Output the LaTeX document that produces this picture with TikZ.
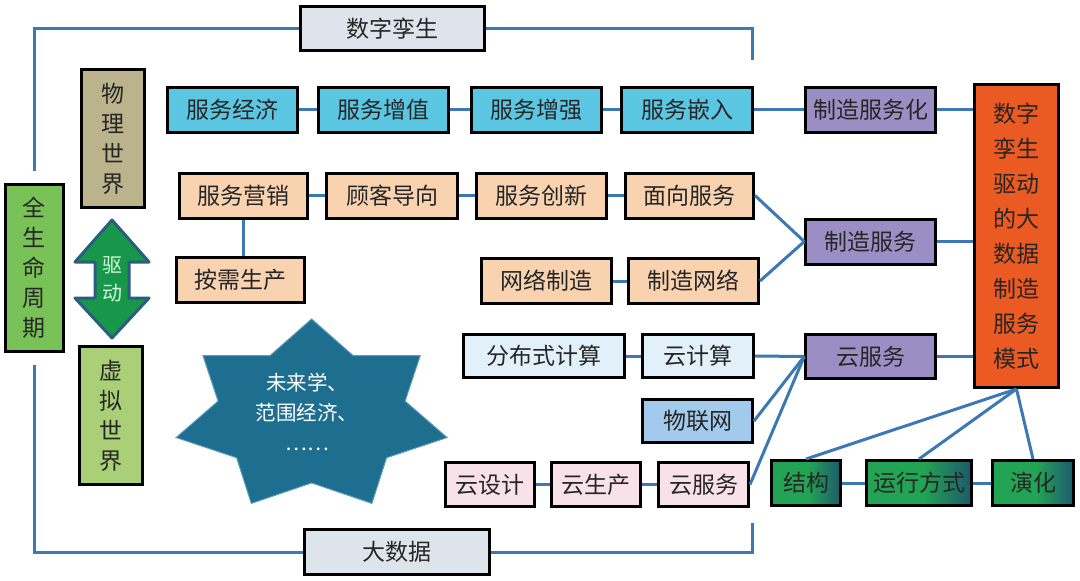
\documentclass[tikz,border=0pt]{standalone}
\usepackage{fontspec}
\usepackage{xcolor}
\usepackage{tikz}
\usetikzlibrary{positioning, calc}
\newfontfamily\cjk{Noto Sans CJK SC}

\definecolor{linkblue}{HTML}{3B78B4}
\definecolor{twingray}{HTML}{DDE4EC}
\definecolor{lifegreen}{HTML}{79C257}
\definecolor{physkhaki}{HTML}{BAB38C}
\definecolor{virtgreen}{HTML}{A9CF77}
\definecolor{servcyan}{HTML}{5BC6E2}
\definecolor{servpeach}{HTML}{F9D3B0}
\definecolor{mfgpurple}{HTML}{9B8EC4}
\definecolor{modeorange}{HTML}{EA5A22}
\definecolor{cloudblue}{HTML}{E2F0F9}
\definecolor{iotblue}{HTML}{A2CAEC}
\definecolor{cloudpink}{HTML}{F8E1E9}
\definecolor{boxgreen}{HTML}{22A454}
\definecolor{boxteal}{HTML}{1C5A6C}
\definecolor{arrowedge}{HTML}{2A5D80}
\definecolor{arrowdark}{HTML}{18974A}
\definecolor{arrowlight}{HTML}{2DB862}
\definecolor{starteal}{HTML}{1E6F8F}
\definecolor{staredge}{HTML}{5A9CC0}

\pgfdeclarehorizontalshading{greenfade}{100bp}{color(0bp)=(boxgreen); color(25bp)=(boxgreen); color(52bp)=(boxgreen); color(75bp)=(boxteal); color(100bp)=(boxteal)}

\newcommand\boxfont{\cjk\fontsize{23}{30}\selectfont}

\tikzset{
  box/.style={draw=black, line width=3pt, inner sep=0pt, align=center, text=black!85, font=\boxfont},
  link/.style={draw=linkblue, line width=3pt},
  row/.style={box, minimum height=45pt}
}

\begin{document}
\begin{tikzpicture}[x=1pt, y=-1pt]
    \useasboundingbox (0,0) rectangle (1080,581);

    % Frame boxes: twin, big data, life cycle
    \node[box, fill=twingray, minimum width=184, minimum height=44] (twin) at (392.5,28.5) {数字孪生};
    \node[box, fill=twingray, minimum width=185, minimum height=45] (bigdata) at (397,552) {大数据};
    \node[box, fill=lifegreen, minimum width=58, minimum height=167] (life) at (34.5,268) {全\\生\\命\\周\\期};

    % Physical and virtual world
    \node[box, fill=physkhaki, minimum width=63, minimum height=138] (phys) at (113,138.5) {物\\理\\世\\界};
    \node[box, fill=virtgreen, minimum width=63, minimum height=138] (virt) at (111,415.5) {虚\\拟\\世\\界};

    % Drive arrow between the two worlds
    \draw[draw=arrowedge, line width=3pt, line join=round, left color=arrowdark, middle color=arrowlight, right color=arrowdark]
      (112,220) -- (149,262) -- (129,262) -- (129,298) -- (149,298) -- (112,338)
      -- (75,298) -- (95,298) -- (95,262) -- (75,262) -- cycle;
    \node[font=\cjk\fontsize{20}{28}\selectfont, text={rgb,255:red,214;green,245;blue,220}, align=center] (drive) at (112,279) {驱\\动};

    % Star with topics
    \draw[fill=starteal, draw=staredge, line width=1pt]
      (311.6,319) \foreach \k in {1,...,13}{
        -- ({311.6+139*ifthenelse(mod(\k,2)==0,1,0.69)*cos(-90+\k*360/14)},
            {416+97*ifthenelse(mod(\k,2)==0,1,0.69)*sin(-90+\k*360/14)})
      } -- cycle;
    \node[font=\cjk\fontsize{20.5}{30}\selectfont, text=white, align=center] (topics) at (307,412) {未来学、\\范围经济、\\……};

    % Row 1: service economy chain
    \node[row, fill=servcyan, minimum width=130] (econ) at (232.5,109.5) {服务经济};
    \node[row, fill=servcyan, minimum width=130] (addval) at (383.5,109.5) {服务增值};
    \node[row, fill=servcyan, minimum width=130] (enhance) at (536.5,109.5) {服务增强};
    \node[row, fill=servcyan, minimum width=131] (embed) at (687,109.5) {服务嵌入};
    \node[row, fill=mfgpurple, minimum width=130] (servitize) at (870.75,109.5) {制造服务化};

    % Right: mode box
    \node[box, fill=modeorange, minimum width=84, minimum height=303, font=\cjk\fontsize{23}{35}\selectfont] (mode) at (1016.5,236)
      {数字\\孪生\\驱动\\的大\\数据\\制造\\服务\\模式};

    % Row 2: service orientation chain
    \node[row, fill=servpeach, minimum width=128] (market) at (243.5,195.5) {服务营销};
    \node[row, fill=servpeach, minimum width=131] (customer) at (392,195.5) {顾客导向};
    \node[row, fill=servpeach, minimum width=130] (innov) at (541.5,195.5) {服务创新};
    \node[row, fill=servpeach, minimum width=128] (oriented) at (689.5,195.5) {面向服务};
    \node[row, fill=mfgpurple, minimum width=130] (mfgserv) at (870.75,241.5) {制造服务};
    \node[row, fill=servpeach, minimum width=128] (ondemand) at (240.5,279.5) {按需生产};
    \node[row, fill=servpeach, minimum width=130] (netmfg) at (546.5,281) {网络制造};
    \node[row, fill=servpeach, minimum width=130] (mfgnet) at (693.5,281) {制造网络};

    % Row 3: cloud computing chain
    \node[row, fill=cloudblue, minimum width=161, minimum height=43] (distrib) at (544,356) {分布式计算};
    \node[row, fill=cloudblue, minimum width=111, minimum height=43] (cloudcomp) at (698,356) {云计算};
    \node[row, fill=mfgpurple, minimum width=130, minimum height=44] (cloudserv) at (870.75,356.5) {云服务};
    \node[row, fill=iotblue, minimum width=110, minimum height=43] (iot) at (697.5,421) {物联网};

    % Row 4: cloud design chain
    \node[row, fill=cloudpink, minimum width=89, minimum height=44] (clouddesign) at (489.5,484.5) {云设计};
    \node[row, fill=cloudpink, minimum width=89, minimum height=44] (cloudprod) at (596,484.5) {云生产};
    \node[row, fill=cloudpink, minimum width=90, minimum height=44] (cloudserv2) at (703.5,484.5) {云服务};

    % Bottom right: mode aspects
    \node[row, shade, shading=greenfade, minimum width=69] (struct) at (806,483) {结构};
    \node[row, shade, shading=greenfade, minimum width=105] (operate) at (919,483) {运行方式};
    \node[row, shade, shading=greenfade, minimum width=81] (evolve) at (1033,483) {演化};

    % Frame wires
    \coordinate (twinend) at (752,60);
    \coordinate (dataend) at (752,523);
    \draw[link, shorten >=12pt] (twin.west) -| (life.north);
    \draw[link] (twin.east) -| (twinend);
    \draw[link, shorten <=12pt] (life.south) |- (bigdata.west);
    \draw[link] (bigdata.east) -| (dataend);

    % Row wires
    \draw[link] (econ) -- (addval);
    \draw[link] (addval) -- (enhance);
    \draw[link] (enhance) -- (embed);
    \draw[link] (embed) -- (servitize);
    \draw[link] (servitize.east) -- (servitize.east -| mode.west);

    \draw[link] (market) -- (customer);
    \draw[link] (customer) -- (innov);
    \draw[link] (innov) -- (oriented);
    \draw[link] (market.south) -- (market.south |- ondemand.north);
    \draw[link] (netmfg) -- (mfgnet);
    \draw[link] (oriented.east) -- (mfgserv.west);
    \draw[link] (mfgnet.east) -- (mfgserv.west);
    \draw[link] (mfgserv.east) -- (mfgserv.east -| mode.west);

    \draw[link] (distrib) -- (cloudcomp);
    \draw[link] (cloudcomp.east) -- (cloudserv.west);
    \draw[link] (iot.east) -- (cloudserv.west);
    \draw[link] (cloudserv2.east) -- (cloudserv.west);
    \draw[link] (cloudserv.east) -- (cloudserv.east -| mode.west);

    \draw[link] (clouddesign) -- (cloudprod);
    \draw[link] (cloudprod) -- (cloudserv2);

    \draw[link] (struct) -- (operate);
    \draw[link] (operate) -- (evolve);
    \draw[link] (mode.south) -- (struct.north);
    \draw[link] (mode.south) -- (operate.north);
    \draw[link] (mode.south) -- (evolve.north);
\end{tikzpicture}
\end{document}
